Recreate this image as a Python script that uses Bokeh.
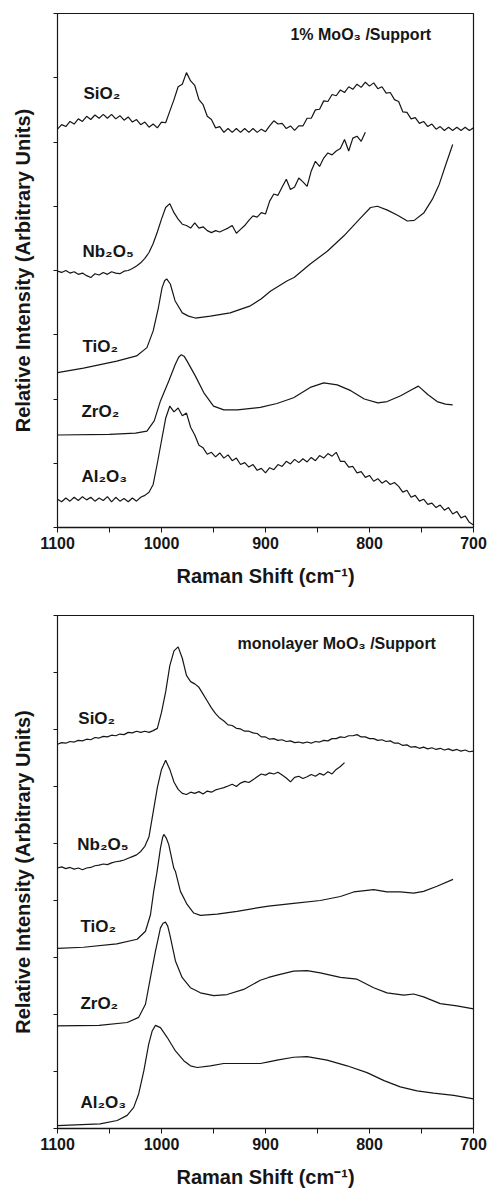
from bokeh.plotting import figure
from bokeh.layouts import column
from bokeh.models import Range1d, FixedTicker, CustomJSTickFormatter, CustomLabelingPolicy
from bokeh.core.properties import value
from bokeh.embed import file_html
from bokeh.resources import INLINE

FONT = "Liberation Sans"
INK = "#161616"
STEP = 4  # cm-1 spacing of the densely sampled (noisy) spectra, starting at 1100

# ---------------- 1% MoO3 / Support ----------------
top_sio2 = [
    6.20, 6.27, 6.24, 6.32, 6.28, 6.36, 6.32, 6.40, 6.35, 6.42,
    6.37, 6.43, 6.37, 6.43, 6.36, 6.41, 6.34, 6.39, 6.31, 6.35,
    6.27, 6.31, 6.23, 6.28, 6.22, 6.31, 6.30, 6.48, 6.66, 6.86,
    6.90, 7.08, 6.95, 6.88, 6.66, 6.58, 6.40, 6.35, 6.22, 6.24,
    6.15, 6.21, 6.15, 6.21, 6.15, 6.21, 6.15, 6.21, 6.15, 6.20,
    6.16, 6.25, 6.33, 6.28, 6.29, 6.21, 6.25, 6.18, 6.25, 6.25,
    6.37, 6.37, 6.50, 6.51, 6.64, 6.63, 6.74, 6.72, 6.81, 6.77,
    6.86, 6.82, 6.90, 6.85, 6.93, 6.87, 6.92, 6.83, 6.86, 6.76,
    6.77, 6.66, 6.63, 6.47, 6.46, 6.36, 6.38, 6.29, 6.32, 6.24,
    6.28, 6.20, 6.24, 6.18, 6.23, 6.18, 6.23, 6.18, 6.23, 6.18,
    6.22,
]
top_nb2o5 = [
    3.99, 3.97, 4.00, 3.96, 3.98, 3.94, 3.96, 3.92, 3.89, 3.95,
    3.93, 3.97, 3.94, 3.98, 3.96, 3.95, 3.99, 4.00, 4.03, 4.07,
    4.12, 4.19, 4.28, 4.42, 4.60, 4.80, 4.98, 5.04, 4.90, 4.80,
    4.72, 4.70, 4.66, 4.74, 4.66, 4.68, 4.62, 4.59, 4.62, 4.60,
    4.63, 4.66, 4.70, 4.58, 4.64, 4.70, 4.78, 4.85, 4.83, 4.90,
    4.88, 5.08, 5.19, 5.17, 5.30, 5.42, 5.26, 5.30, 5.44, 5.38,
    5.31, 5.55, 5.70, 5.62, 5.75, 5.83, 5.80, 5.86, 5.90, 6.04,
    5.86, 6.06, 6.09, 6.01, 6.15,
]
top_al2o3 = [
    0.44, 0.40, 0.46, 0.41, 0.47, 0.42, 0.48, 0.43, 0.47, 0.41,
    0.46, 0.42, 0.48, 0.40, 0.47, 0.41, 0.45, 0.40, 0.46, 0.41,
    0.47, 0.50, 0.55, 0.67, 1.00, 1.35, 1.70, 1.89, 1.80, 1.86,
    1.74, 1.78, 1.56, 1.44, 1.28, 1.24, 1.14, 1.17, 1.10, 1.16,
    1.08, 1.13, 1.04, 1.08, 0.98, 1.01, 0.94, 0.98, 0.89, 0.92,
    0.85, 0.93, 0.90, 0.98, 0.95, 1.03, 0.99, 1.06, 1.01, 1.07,
    1.02, 1.09, 1.04, 1.12, 1.08, 1.15, 1.11, 1.17, 1.03, 1.03,
    0.94, 0.95, 0.85, 0.87, 0.78, 0.81, 0.72, 0.76, 0.69, 0.73,
    0.67, 0.70, 0.64, 0.55, 0.58, 0.47, 0.50, 0.41, 0.44, 0.36,
    0.38, 0.31, 0.35, 0.27, 0.31, 0.21, 0.25, 0.15, 0.18, 0.08,
    0.04,
]
top_tio2_x = [1100, 1075, 1043, 1024, 1014, 1008, 1003, 999.5, 997, 995, 991.5, 987,
              980, 974, 967.5, 953, 934, 914.5, 904, 895, 879, 872.5, 857, 840.6,
              824.6, 808.5, 799, 792.4, 782.8, 773, 763.6, 757, 747.6, 739.5, 733,
              726.6, 720]
top_tio2_y = [2.41, 2.48, 2.59, 2.67, 2.80, 3.06, 3.42, 3.73, 3.84, 3.87, 3.79, 3.53,
              3.34, 3.29, 3.26, 3.29, 3.34, 3.45, 3.56, 3.68, 3.84, 3.89, 4.10, 4.30,
              4.54, 4.82, 4.98, 5.00, 4.94, 4.86, 4.77, 4.78, 4.90, 5.11, 5.34,
              5.65, 5.96]
top_zro2_x = [1100, 1050, 1025, 1014, 1007, 1001, 993, 986.7, 983.5, 981, 978, 975.4,
              967.5, 959.4, 950, 940, 927, 905, 889, 873, 857, 844, 831, 818, 805,
              792, 783, 770, 760, 753, 744, 735, 727, 720]
top_zro2_y = [1.44, 1.45, 1.47, 1.50, 1.66, 1.97, 2.28, 2.54, 2.65, 2.69, 2.66, 2.59,
              2.36, 2.10, 1.89, 1.83, 1.83, 1.87, 1.93, 2.02, 2.18, 2.25, 2.22, 2.13, 2.00,
              1.94, 1.96, 2.05, 2.14, 2.20, 2.07, 1.96, 1.92, 1.91]

top_names = ["SiO₂", "Nb₂O₅", "TiO₂", "ZrO₂", "Al₂O₃"]
top_title = "1% MoO₃ /Support"

# ---------------- monolayer MoO3 / Support ----------------
bot_sio2 = [
    6.74, 6.77, 6.76, 6.79, 6.78, 6.81, 6.80, 6.83, 6.82, 6.86,
    6.85, 6.88, 6.87, 6.90, 6.89, 6.92, 6.91, 6.95, 6.94, 6.97,
    6.95, 6.97, 6.95, 6.98, 7.02, 7.30, 7.66, 8.12, 8.38, 8.45,
    8.25, 7.95, 7.84, 7.80, 7.74, 7.62, 7.50, 7.38, 7.28, 7.20,
    7.15, 7.08, 7.07, 7.02, 7.01, 6.97, 6.97, 6.94, 6.93, 6.87,
    6.87, 6.83, 6.84, 6.81, 6.82, 6.79, 6.80, 6.77, 6.78, 6.76,
    6.78, 6.76, 6.79, 6.78, 6.81, 6.80, 6.84, 6.84, 6.87, 6.86,
    6.89, 6.89, 6.91, 6.87, 6.87, 6.84, 6.84, 6.81, 6.82, 6.79,
    6.80, 6.76, 6.76, 6.72, 6.73, 6.69, 6.70, 6.67, 6.69, 6.66,
    6.68, 6.65, 6.67, 6.64, 6.66, 6.63, 6.65, 6.62, 6.64, 6.61,
    6.62,
]
bot_nb2o5 = [
    4.57, 4.59, 4.56, 4.58, 4.55, 4.57, 4.54, 4.57, 4.58, 4.61,
    4.62, 4.64, 4.63, 4.66, 4.68, 4.69, 4.71, 4.74, 4.77, 4.80,
    4.86, 4.95, 5.12, 5.55, 5.98, 6.30, 6.46, 6.30, 6.08, 5.95,
    5.88, 5.86, 5.90, 5.88, 5.91, 5.87, 5.92, 5.90, 5.94, 5.96,
    5.98, 6.01, 6.04, 6.00, 6.06, 6.09, 6.07, 6.12, 6.17, 6.22,
    6.20, 6.24, 6.22, 6.25, 6.20, 6.15, 6.08, 6.16, 6.18, 6.14,
    6.17, 6.21, 6.18, 6.23, 6.20, 6.26, 6.22, 6.30, 6.35, 6.42,
]
bot_tio2_x = [1100, 1075, 1043, 1023.4, 1015.4, 1010.6, 1007.5, 1004.5, 1001, 999,
              997.8, 995.5, 993, 988.2, 986.6, 981.8, 975.4, 969, 962.6, 946.5, 927.3,
              905, 897, 873, 847.3, 828, 815.2, 796, 783.2, 770.4, 757.6, 748, 735.1,
              719.7]
bot_tio2_y = [3.16, 3.18, 3.24, 3.32, 3.46, 3.75, 4.16, 4.48, 4.92, 5.10,
              5.16, 5.10, 4.98, 4.57, 4.51, 4.16, 3.93, 3.78, 3.74, 3.76, 3.81,
              3.88, 3.90, 3.95, 4.00, 4.07, 4.15, 4.19, 4.15, 4.15, 4.13, 4.16, 4.25,
              4.37]
bot_zro2_x = [1100, 1060, 1033, 1021.9, 1015.4, 1010.6, 1005.8, 1001, 998.5, 996.2,
              994, 992, 986.6, 980.2, 972.2, 962.6, 949.8, 936.9, 921, 905, 897, 888.9,
              873, 860, 847.3, 828, 812, 796, 783.2, 767, 757.6, 748, 732, 716, 700]
bot_zro2_y = [1.80, 1.81, 1.86, 1.95, 2.18, 2.65, 3.11, 3.52, 3.60, 3.62,
              3.55, 3.40, 2.94, 2.65, 2.47, 2.38, 2.33, 2.35, 2.44, 2.60, 2.65, 2.69,
              2.76, 2.77, 2.73, 2.65, 2.62, 2.47, 2.38, 2.34, 2.36, 2.31, 2.19, 2.15, 2.10]
bot_al2o3_x = [1100, 1059, 1042.6, 1033, 1026.7, 1021.9, 1017, 1012.3, 1009, 1005.8,
               1001, 994.6, 986.6, 978.6, 972.2, 965.7, 953, 940.2, 921, 905, 897,
               888.9, 873, 860, 840.8, 821.6, 802.4, 786, 770.4, 754.3, 738.3, 719, 700]
bot_al2o3_y = [0.05, 0.08, 0.14, 0.23, 0.37, 0.61, 1.01, 1.48, 1.71, 1.81,
               1.77, 1.60, 1.36, 1.19, 1.10, 1.07, 1.10, 1.14, 1.14, 1.14, 1.17,
               1.20, 1.25, 1.26, 1.20, 1.10, 0.98, 0.84, 0.73, 0.66, 0.62, 0.58, 0.52]

bot_names = ["SiO₂", "Nb₂O₅", "TiO₂", "ZrO₂", "Al₂O₃"]
bot_title = "monolayer MoO₃ /Support"

x_major = [1100, 1000, 900, 800, 700]
x_minor = [1050, 950, 850, 750]


def sampled(vals):
    """Wavenumber axis for a spectrum recorded every STEP cm-1 from 1100."""
    return [1100 - STEP * i for i in range(len(vals))]


def panel(ymax, frame_h, border_top, border_bottom):
    p = figure(frame_width=416, frame_height=frame_h,
               x_range=Range1d(1100, 700), y_range=Range1d(0, ymax),
               output_backend="svg", toolbar_location=None,
               min_border_left=57, min_border_right=15,
               min_border_top=border_top, min_border_bottom=border_bottom,
               background_fill_color="white", border_fill_color="white")
    p.xgrid.visible = False
    p.ygrid.visible = False
    p.outline_line_color = INK
    p.outline_line_width = 1.2

    xa = p.xaxis[0]
    xa.ticker = FixedTicker(ticks=x_major, minor_ticks=x_minor)
    xa.axis_label = "Raman Shift (cm⁻¹)"
    xa.axis_label_text_font = FONT
    xa.axis_label_text_font_style = "bold"
    xa.axis_label_text_font_size = "20px"
    xa.axis_label_text_color = INK
    xa.axis_label_standoff = 13
    xa.major_label_text_font = FONT
    xa.major_label_text_font_style = "bold"
    xa.major_label_text_font_size = "16px"
    xa.major_label_text_color = INK
    xa.major_label_standoff = 4
    xa.axis_line_color = INK
    xa.axis_line_width = 1.6
    xa.major_tick_line_color = INK
    xa.minor_tick_line_color = INK
    xa.major_tick_in = 0
    xa.major_tick_out = 5
    xa.minor_tick_in = 0
    xa.minor_tick_out = 5

    # intensity axis: tick marks only, no numbers
    ya = p.yaxis[0]
    ya.ticker = FixedTicker(ticks=list(range(0, ymax + 1)), minor_ticks=[])
    ya.formatter = CustomJSTickFormatter(code="return ''")
    ya.major_label_policy = CustomLabelingPolicy(
        code="for (const i of indices) { indices.unset(i) } return indices")
    ya.axis_label = "Relative Intensity (Arbitrary Units)"
    ya.axis_label_text_font = FONT
    ya.axis_label_text_font_style = "bold"
    ya.axis_label_text_font_size = "20px"
    ya.axis_label_text_color = INK
    ya.axis_label_standoff = 20
    ya.major_label_standoff = 0
    ya.axis_line_color = INK
    ya.major_tick_line_color = INK
    ya.major_tick_in = 0
    ya.major_tick_out = 4
    ya.minor_tick_line_color = None
    return p


def spectra(p, curves):
    for xs, ys in curves:
        p.line(xs, ys, line_color=INK, line_width=1.2)


def annotate(p, names, xs, ys, title, tx, ty):
    p.text(x=xs, y=ys, text=names, text_font=value(FONT), text_font_style="bold",
           text_font_size="17px", text_baseline="middle", text_align="left",
           text_color=INK)
    p.text(x=[tx], y=[ty], text=[title], text_font=value(FONT), text_font_style="bold",
           text_font_size="16px", text_baseline="middle", text_align="left",
           text_color=INK)


# top panel
p1 = panel(8, 514, 13, 75)
spectra(p1, [
    (sampled(top_sio2), top_sio2),
    (sampled(top_nb2o5), top_nb2o5),
    (top_tio2_x, top_tio2_y),
    (top_zro2_x, top_zro2_y),
    (sampled(top_al2o3), top_al2o3),
])
annotate(p1, top_names, [1075, 1076, 1076, 1077, 1077], [6.76, 4.29, 2.81, 1.81, 0.80],
         top_title, 876, 7.68)

# bottom panel
p2 = panel(9, 513, 13, 60)
spectra(p2, [
    (sampled(bot_sio2), bot_sio2),
    (sampled(bot_nb2o5), bot_nb2o5),
    (bot_tio2_x, bot_tio2_y),
    (bot_zro2_x, bot_zro2_y),
    (bot_al2o3_x, bot_al2o3_y),
])
annotate(p2, bot_names, [1080, 1081, 1078, 1078, 1078], [7.20, 4.98, 3.55, 2.19, 0.45],
         bot_title, 927, 8.51)

layout = column(p1, p2, spacing=0)
open("out.html", "w").write(file_html(layout, INLINE))
